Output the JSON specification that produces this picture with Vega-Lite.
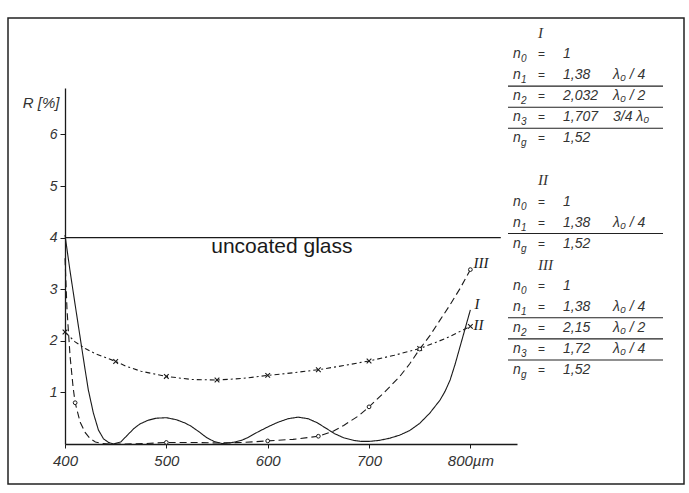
{
  "$schema": "https://vega.github.io/schema/vega-lite/v6.json",
  "width": 676,
  "height": 466,
  "autosize": {"type": "none"},
  "padding": {"left": 8, "top": 18, "right": 5, "bottom": 9},
  "background": "white",
  "config": {"view": {"stroke": "#222", "strokeWidth": 1.5}, "font": "Liberation Sans"},
  "datasets": {
    "curves": [
      {"series": "I", "nm": 400, "R": 4.05}, {"series": "I", "nm": 405, "R": 3.35}, {"series": "I", "nm": 410, "R": 2.7},
      {"series": "I", "nm": 416, "R": 1.93}, {"series": "I", "nm": 420, "R": 1.42}, {"series": "I", "nm": 423, "R": 1.05},
      {"series": "I", "nm": 428, "R": 0.6}, {"series": "I", "nm": 433, "R": 0.27}, {"series": "I", "nm": 438, "R": 0.1},
      {"series": "I", "nm": 443, "R": 0.03}, {"series": "I", "nm": 448, "R": 0.0}, {"series": "I", "nm": 455, "R": 0.04},
      {"series": "I", "nm": 461, "R": 0.16}, {"series": "I", "nm": 468, "R": 0.3}, {"series": "I", "nm": 474, "R": 0.39},
      {"series": "I", "nm": 482, "R": 0.46}, {"series": "I", "nm": 490, "R": 0.5}, {"series": "I", "nm": 500, "R": 0.51},
      {"series": "I", "nm": 510, "R": 0.47}, {"series": "I", "nm": 518, "R": 0.41}, {"series": "I", "nm": 524, "R": 0.35},
      {"series": "I", "nm": 532, "R": 0.24}, {"series": "I", "nm": 540, "R": 0.12}, {"series": "I", "nm": 547, "R": 0.05},
      {"series": "I", "nm": 555, "R": 0.01}, {"series": "I", "nm": 562, "R": 0.02}, {"series": "I", "nm": 568, "R": 0.04},
      {"series": "I", "nm": 574, "R": 0.07}, {"series": "I", "nm": 580, "R": 0.12}, {"series": "I", "nm": 590, "R": 0.23},
      {"series": "I", "nm": 600, "R": 0.33}, {"series": "I", "nm": 610, "R": 0.42}, {"series": "I", "nm": 620, "R": 0.49},
      {"series": "I", "nm": 630, "R": 0.52}, {"series": "I", "nm": 640, "R": 0.49}, {"series": "I", "nm": 649, "R": 0.41},
      {"series": "I", "nm": 658, "R": 0.3}, {"series": "I", "nm": 666, "R": 0.2}, {"series": "I", "nm": 675, "R": 0.12},
      {"series": "I", "nm": 685, "R": 0.07}, {"series": "I", "nm": 692, "R": 0.05}, {"series": "I", "nm": 700, "R": 0.05},
      {"series": "I", "nm": 710, "R": 0.07}, {"series": "I", "nm": 720, "R": 0.11}, {"series": "I", "nm": 730, "R": 0.17},
      {"series": "I", "nm": 740, "R": 0.26}, {"series": "I", "nm": 750, "R": 0.4}, {"series": "I", "nm": 760, "R": 0.6},
      {"series": "I", "nm": 770, "R": 0.85}, {"series": "I", "nm": 775, "R": 1.02}, {"series": "I", "nm": 780, "R": 1.24},
      {"series": "I", "nm": 785, "R": 1.55}, {"series": "I", "nm": 790, "R": 1.9}, {"series": "I", "nm": 795, "R": 2.25},
      {"series": "I", "nm": 800, "R": 2.6},
      {"series": "II", "nm": 400, "R": 2.17}, {"series": "II", "nm": 410, "R": 1.98}, {"series": "II", "nm": 420, "R": 1.85},
      {"series": "II", "nm": 430, "R": 1.75}, {"series": "II", "nm": 450, "R": 1.6}, {"series": "II", "nm": 460, "R": 1.51},
      {"series": "II", "nm": 475, "R": 1.41}, {"series": "II", "nm": 500, "R": 1.31}, {"series": "II", "nm": 525, "R": 1.25},
      {"series": "II", "nm": 550, "R": 1.24}, {"series": "II", "nm": 575, "R": 1.27}, {"series": "II", "nm": 600, "R": 1.33},
      {"series": "II", "nm": 625, "R": 1.38}, {"series": "II", "nm": 650, "R": 1.44}, {"series": "II", "nm": 675, "R": 1.52},
      {"series": "II", "nm": 700, "R": 1.61}, {"series": "II", "nm": 725, "R": 1.72}, {"series": "II", "nm": 750, "R": 1.85},
      {"series": "II", "nm": 775, "R": 2.04}, {"series": "II", "nm": 800, "R": 2.28},
      {"series": "III", "nm": 400, "R": 3.6}, {"series": "III", "nm": 402, "R": 2.6}, {"series": "III", "nm": 405, "R": 1.7},
      {"series": "III", "nm": 408, "R": 1.1}, {"series": "III", "nm": 410, "R": 0.8}, {"series": "III", "nm": 415, "R": 0.42},
      {"series": "III", "nm": 420, "R": 0.22}, {"series": "III", "nm": 425, "R": 0.1}, {"series": "III", "nm": 430, "R": 0.04},
      {"series": "III", "nm": 437, "R": 0.01}, {"series": "III", "nm": 445, "R": 0.0}, {"series": "III", "nm": 460, "R": 0.0},
      {"series": "III", "nm": 480, "R": 0.01}, {"series": "III", "nm": 500, "R": 0.03}, {"series": "III", "nm": 525, "R": 0.03},
      {"series": "III", "nm": 550, "R": 0.02}, {"series": "III", "nm": 575, "R": 0.03}, {"series": "III", "nm": 600, "R": 0.06},
      {"series": "III", "nm": 625, "R": 0.09}, {"series": "III", "nm": 650, "R": 0.15}, {"series": "III", "nm": 665, "R": 0.25},
      {"series": "III", "nm": 675, "R": 0.36}, {"series": "III", "nm": 690, "R": 0.55}, {"series": "III", "nm": 700, "R": 0.72},
      {"series": "III", "nm": 715, "R": 1.0}, {"series": "III", "nm": 730, "R": 1.3}, {"series": "III", "nm": 740, "R": 1.55},
      {"series": "III", "nm": 750, "R": 1.84}, {"series": "III", "nm": 760, "R": 2.1}, {"series": "III", "nm": 770, "R": 2.4},
      {"series": "III", "nm": 780, "R": 2.7}, {"series": "III", "nm": 790, "R": 3.02}, {"series": "III", "nm": 800, "R": 3.38}
    ],
    "markers": [
      {"series": "II", "nm": 400, "R": 2.17}, {"series": "II", "nm": 450, "R": 1.6}, {"series": "II", "nm": 500, "R": 1.31},
      {"series": "II", "nm": 550, "R": 1.24}, {"series": "II", "nm": 600, "R": 1.33}, {"series": "II", "nm": 650, "R": 1.44},
      {"series": "II", "nm": 700, "R": 1.61}, {"series": "II", "nm": 750, "R": 1.85}, {"series": "II", "nm": 800, "R": 2.28},
      {"series": "III", "nm": 410, "R": 0.8}, {"series": "III", "nm": 500, "R": 0.03}, {"series": "III", "nm": 600, "R": 0.06},
      {"series": "III", "nm": 650, "R": 0.15}, {"series": "III", "nm": 700, "R": 0.72}, {"series": "III", "nm": 750, "R": 1.84},
      {"series": "III", "nm": 800, "R": 3.38}
    ],
    "uncoated": [
      {"nm": 400, "R": 4.0}, {"nm": 830, "R": 4.0}
    ],
    "notes": [
      {"text": "uncoated glass", "nm": 614, "R": 3.7}
    ],
    "curveLabels": [
      {"text": "III", "nm": 803, "R": 3.5},
      {"text": "I", "nm": 804, "R": 2.72},
      {"text": "II", "nm": 803, "R": 2.3}
    ],
    "table": [
      {"line": 0, "head": "I"},
      {"line": 1, "sub": "0", "val": "1"},
      {"line": 2, "sub": "1", "val": "1,38", "thick": "λ₀ / 4", "under": true},
      {"line": 3, "sub": "2", "val": "2,032", "thick": "λ₀ / 2", "under": true},
      {"line": 4, "sub": "3", "val": "1,707", "thick": "3/4 λ₀", "under": true},
      {"line": 5, "sub": "g", "val": "1,52"},
      {"line": 7, "head": "II"},
      {"line": 8, "sub": "0", "val": "1"},
      {"line": 9, "sub": "1", "val": "1,38", "thick": "λ₀ / 4", "under": true},
      {"line": 10, "sub": "g", "val": "1,52"},
      {"line": 11, "head": "III"},
      {"line": 12, "sub": "0", "val": "1"},
      {"line": 13, "sub": "1", "val": "1,38", "thick": "λ₀ / 4", "under": true},
      {"line": 14, "sub": "2", "val": "2,15", "thick": "λ₀ / 2", "under": true},
      {"line": 15, "sub": "3", "val": "1,72", "thick": "λ₀ / 4", "under": true},
      {"line": 16, "sub": "g", "val": "1,52"}
    ]
  },
  "layer": [
    {
      "layer": [
        {
          "data": {"name": "uncoated"},
          "mark": {"type": "line", "stroke": "#1a1a1a", "strokeWidth": 1.4},
          "encoding": {
            "x": {
              "field": "nm", "type": "quantitative",
              "scale": {"domain": [400, 846], "range": [57, 509], "zero": false, "nice": false},
              "axis": {
                "title": null, "values": [400, 500, 600, 700, 800], "offset": -40, "grid": false,
                "domainColor": "#1a1a1a", "domainWidth": 1.3, "tickColor": "#1a1a1a", "tickSize": 4,
                "labelFont": "Liberation Sans", "labelFontStyle": "italic", "labelFontSize": 15,
                "labelColor": "#333", "labelPadding": 5, "labelFlush": false, "labelOverlap": false,
                "labelExpr": "datum.value == 800 ? '\u2007\u2007800µm' : datum.label"
              }
            },
            "y": {
              "field": "R", "type": "quantitative",
              "scale": {"domain": [0, 6.9], "range": [426, 70], "zero": false, "nice": false},
              "axis": {
                "title": "R [%]", "values": [1, 2, 3, 4, 5, 6], "format": "d", "offset": -57, "grid": false,
                "domainColor": "#1a1a1a", "domainWidth": 1.3, "tickColor": "#1a1a1a", "tickSize": 5,
                "labelFont": "Liberation Sans", "labelFontStyle": "italic", "labelFontSize": 14,
                "labelColor": "#333", "labelPadding": 3, "labelFlush": false, "labelOverlap": false,
                "titleAngle": 0, "titleX": -6, "titleY": 84, "titleAlign": "right", "titleBaseline": "middle",
                "titleFont": "Liberation Sans", "titleFontStyle": "italic", "titleFontWeight": "normal",
                "titleFontSize": 15, "titleColor": "#333"
              }
            }
          }
        },
        {
          "data": {"name": "curves"},
          "mark": {"type": "line", "stroke": "#1a1a1a", "strokeWidth": 1.1},
          "encoding": {
            "x": {"field": "nm", "type": "quantitative"},
            "y": {"field": "R", "type": "quantitative"},
            "strokeDash": {
              "field": "series", "type": "nominal",
              "scale": {"domain": ["I", "II", "III"], "range": [[1, 0], [5, 3, 2, 3], [7, 4]]},
              "legend": null
            }
          }
        },
        {
          "data": {"name": "markers"},
          "transform": [{"filter": "datum.series == 'II'"}],
          "mark": {"type": "point", "shape": "M-1,-1L1,1M-1,1L1,-1", "filled": false, "stroke": "#1a1a1a", "strokeWidth": 1.1, "size": 22, "opacity": 1},
          "encoding": {
            "x": {"field": "nm", "type": "quantitative"},
            "y": {"field": "R", "type": "quantitative"}
          }
        },
        {
          "data": {"name": "markers"},
          "transform": [{"filter": "datum.series == 'III'"}],
          "mark": {"type": "point", "shape": "circle", "filled": false, "fill": "white", "stroke": "#1a1a1a", "strokeWidth": 1, "size": 14, "opacity": 1},
          "encoding": {
            "x": {"field": "nm", "type": "quantitative"},
            "y": {"field": "R", "type": "quantitative"}
          }
        },
        {
          "data": {"name": "notes"},
          "mark": {"type": "text", "font": "Liberation Sans", "fontSize": 21, "fill": "#1a1a1a", "align": "center", "baseline": "alphabetic"},
          "encoding": {
            "x": {"field": "nm", "type": "quantitative"},
            "y": {"field": "R", "type": "quantitative"},
            "text": {"field": "text"}
          }
        },
        {
          "data": {"name": "curveLabels"},
          "mark": {"type": "text", "font": "Liberation Serif", "fontStyle": "italic", "fontSize": 15, "fill": "#1a1a1a", "align": "left", "baseline": "middle"},
          "encoding": {
            "x": {"field": "nm", "type": "quantitative"},
            "y": {"field": "R", "type": "quantitative"},
            "text": {"field": "text"}
          }
        }
      ]
    },
    {
      "data": {"name": "table"},
      "layer": [
        {
          "transform": [{"filter": "datum.head"}],
          "mark": {"type": "text", "font": "Liberation Serif", "fontStyle": "italic", "fontSize": 15, "fill": "#333", "align": "left", "baseline": "middle"},
          "encoding": {
            "x": {"datum": "eq", "type": "nominal",
              "scale": {"type": "point", "domain": ["sym", "a", "eq", "b", "val", "c", "d", "e", "thick", "f", "g", "h", "end"], "range": [505, 655], "padding": 0},
              "axis": null},
            "y": {"field": "line", "type": "quantitative", "scale": {"domain": [0, 16], "range": [15, 352], "zero": false, "nice": false}, "axis": null},
            "text": {"field": "head"}
          }
        },
        {
          "transform": [{"filter": "datum.sub"}],
          "mark": {"type": "text", "font": "Liberation Sans", "fontStyle": "italic", "fontSize": 14, "fill": "#333", "align": "left", "baseline": "middle"},
          "encoding": {
            "x": {"datum": "sym", "type": "nominal", "axis": null},
            "y": {"field": "line", "type": "quantitative", "axis": null},
            "text": {"value": "n"}
          }
        },
        {
          "transform": [{"filter": "datum.sub"}],
          "mark": {"type": "text", "font": "Liberation Sans", "fontStyle": "italic", "fontSize": 10, "fill": "#333", "align": "left", "baseline": "middle", "dx": 8, "dy": 5},
          "encoding": {
            "x": {"datum": "sym", "type": "nominal", "axis": null},
            "y": {"field": "line", "type": "quantitative", "axis": null},
            "text": {"field": "sub"}
          }
        },
        {
          "transform": [{"filter": "datum.sub"}],
          "mark": {"type": "text", "font": "Liberation Sans", "fontSize": 12, "fill": "#333", "align": "left", "baseline": "middle"},
          "encoding": {
            "x": {"datum": "eq", "type": "nominal", "axis": null},
            "y": {"field": "line", "type": "quantitative", "axis": null},
            "text": {"value": "="}
          }
        },
        {
          "transform": [{"filter": "datum.val"}],
          "mark": {"type": "text", "font": "Liberation Sans", "fontStyle": "italic", "fontSize": 14, "fill": "#333", "align": "left", "baseline": "middle"},
          "encoding": {
            "x": {"datum": "val", "type": "nominal", "axis": null},
            "y": {"field": "line", "type": "quantitative", "axis": null},
            "text": {"field": "val"}
          }
        },
        {
          "transform": [{"filter": "datum.thick"}],
          "mark": {"type": "text", "font": "Liberation Sans", "fontStyle": "italic", "fontSize": 14, "fill": "#333", "align": "left", "baseline": "middle"},
          "encoding": {
            "x": {"datum": "thick", "type": "nominal", "axis": null},
            "y": {"field": "line", "type": "quantitative", "axis": null},
            "text": {"field": "thick"}
          }
        },
        {
          "transform": [{"filter": "datum.under"}],
          "mark": {"type": "rule", "stroke": "#222", "strokeWidth": 1.1, "yOffset": 11, "xOffset": -5},
          "encoding": {
            "x": {"datum": "sym", "type": "nominal", "axis": null},
            "x2": {"datum": "end"},
            "y": {"field": "line", "type": "quantitative", "axis": null}
          }
        }
      ]
    }
  ],
  "resolve": {"scale": {"x": "independent", "y": "independent", "strokeDash": "independent"}}
}
